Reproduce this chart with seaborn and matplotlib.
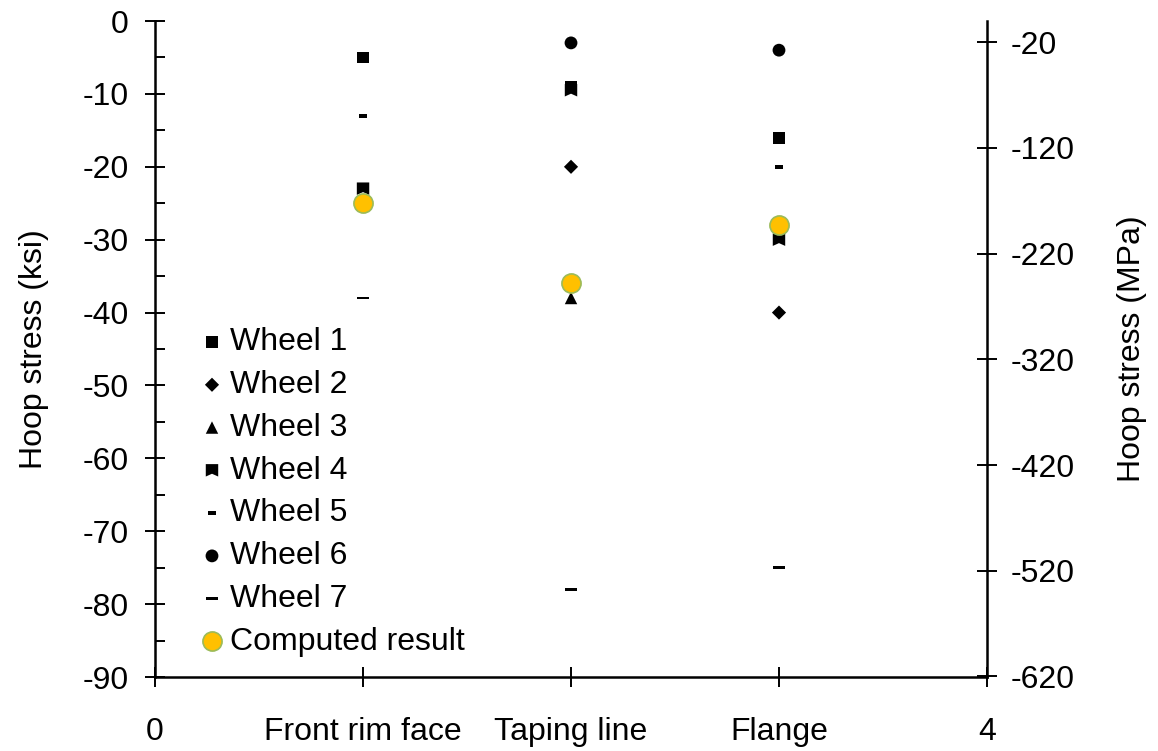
import numpy as np
import matplotlib
matplotlib.use("Agg")
import matplotlib.pyplot as plt
from matplotlib.path import Path
import seaborn as sns
import pandas as pd

sns.set_theme(style="white")
plt.rcParams['font.family'] = ['Liberation Sans', 'DejaVu Sans']
plt.rcParams['axes.unicode_minus'] = False
plt.rcParams['text.color'] = 'black'
plt.rcParams['axes.labelcolor'] = 'black'
plt.rcParams['xtick.color'] = 'black'
plt.rcParams['ytick.color'] = 'black'
plt.rcParams['xtick.labelcolor'] = 'black'
plt.rcParams['ytick.labelcolor'] = 'black'

# ---- data ----
categories = ["Front rim face", "Taping line", "Flange"]
cat_pos = [1, 2, 3]
wheel1 = [-5, -9, -16]
wheel2 = [np.nan, -20, -40]
wheel3 = [np.nan, -38, np.nan]
wheel4 = [-23, -9.5, -30]
wheel5 = [-13, np.nan, -20]
wheel6 = [np.nan, -3, -4]
wheel7 = [-38, -78, -75]
computed = [-25, -36, -28]
xtick_labels = ["0", "Front rim face", "Taping line", "Flange", "4"]
ksi_to_mpa = 6.894757
mpa_ticks = [-20, -120, -220, -320, -420, -520, -620]

FS = 23

# ---- marker shapes ----
notch_sq = Path([(-1, 1), (1, 1), (1, -1), (0, -0.55), (-1, -1), (-1, 1)],
                [Path.MOVETO, Path.LINETO, Path.LINETO, Path.LINETO, Path.LINETO, Path.CLOSEPOLY])
short_dash = Path([(-1, 0.5), (1, 0.5), (1, -0.5), (-1, -0.5), (-1, 0.5)],
                  [Path.MOVETO, Path.LINETO, Path.LINETO, Path.LINETO, Path.CLOSEPOLY])
long_dash = Path([(-1, 0.22), (1, 0.22), (1, -0.22), (-1, -0.22), (-1, 0.22)],
                 [Path.MOVETO, Path.LINETO, Path.LINETO, Path.LINETO, Path.CLOSEPOLY])

series = [
    ("Wheel 1", wheel1, "s", 72),
    ("Wheel 2", wheel2, "D", 52),
    ("Wheel 3", wheel3, "^", 80),
    ("Wheel 4", wheel4, notch_sq, 80),
    ("Wheel 5", wheel5, short_dash, 40),
    ("Wheel 6", wheel6, "o", 85),
    ("Wheel 7", wheel7, long_dash, 75),
]

fig = plt.figure(figsize=(11.58, 7.51), dpi=100)
ax = fig.add_axes([0.1339, 0.0985, 0.7184, 0.8735])

for name, vals, mk, s in series:
    df = pd.DataFrame({"x": cat_pos, "y": vals}).dropna()
    sns.scatterplot(data=df, x="x", y="y", marker=mk, s=s, color="black",
                    edgecolor="none", linewidth=0, ax=ax, label=name, zorder=3)

dfc = pd.DataFrame({"x": cat_pos, "y": computed})
sns.scatterplot(data=dfc, x="x", y="y", marker="o", s=190, color="#FFC000",
                edgecolor="#9BBB59", linewidth=1.2, ax=ax, label="Computed result", zorder=4)

ax.set_xlim(0, 4)
ax.set_ylim(-90, 0)
ax.set_xticks([0, 1, 2, 3, 4])
ax.set_xticklabels(xtick_labels)
ax.set_yticks(np.arange(-90, 1, 10))
ax.set_yticks(np.arange(-85, 0, 10), minor=True)
ax.set_xlabel("")
ax.set_ylabel("Hoop stress (ksi)", fontsize=FS, color="black")
ax.yaxis.set_label_coords(-0.128, 0.5)

ax.spines["top"].set_visible(False)
ax.spines["right"].set_visible(False)
for side in ["left", "bottom"]:
    ax.spines[side].set_linewidth(1.8)
    ax.spines[side].set_color("black")

ax.tick_params(axis="x", which="major", direction="inout", length=14, width=1.4,
               color="black", labelcolor="black", labelsize=FS, pad=22, bottom=True)
ax.tick_params(axis="y", which="major", direction="inout", length=14, width=1.4,
               color="black", labelcolor="black", labelsize=FS, pad=12, left=True)
ax.tick_params(axis="y", which="minor", direction="in", length=7, width=1.4,
               color="black", left=True)

ax2 = ax.twinx()
ax2.set_ylim(-90 * ksi_to_mpa, 0)
ax2.set_yticks(mpa_ticks)
ax2.set_yticklabels([str(t) for t in mpa_ticks])
for side in ["top", "left", "bottom"]:
    ax2.spines[side].set_visible(False)
ax2.spines["right"].set_linewidth(1.8)
ax2.spines["right"].set_color("black")
ax2.tick_params(axis="y", which="major", direction="inout", length=14, width=1.4,
                color="black", labelcolor="black", labelsize=FS, pad=10, right=True)
ax2.set_ylabel("Hoop stress (MPa)", fontsize=FS, color="black")
ax2.yaxis.set_label_coords(1.156, 0.5)
ax2.grid(False)
ax.grid(False)

leg = ax.legend(loc="upper left", bbox_to_anchor=(0.055, 0.533), frameon=False,
                fontsize=FS, handletextpad=0.2, labelspacing=0.4,
                handlelength=0.7, borderaxespad=0, borderpad=0, labelcolor="black")

fig.savefig("out.png", dpi=100)
